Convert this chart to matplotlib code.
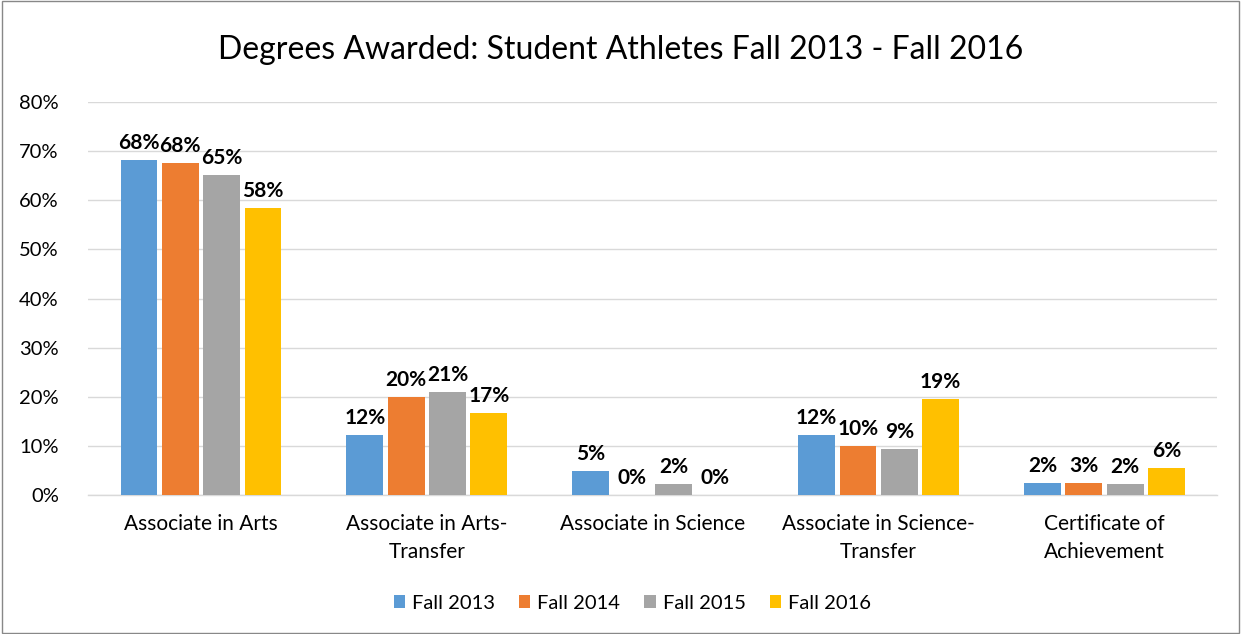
import numpy as np
import matplotlib.pyplot as plt
from matplotlib.patches import Rectangle

plt.rcParams['font.family'] = ['Lato', 'DejaVu Sans']

# Data
categories = ["Associate in Arts", "Associate in Arts-\nTransfer", "Associate in Science",
              "Associate in Science-\nTransfer", "Certificate of\nAchievement"]
series = ["Fall 2013", "Fall 2014", "Fall 2015", "Fall 2016"]
fall_2013 = [68.3, 12.2, 4.9, 12.2, 2.4]
fall_2014 = [67.6, 20.0, 0.0, 10.0, 2.5]
fall_2015 = [65.2, 21.0, 2.2, 9.4, 2.2]
fall_2016 = [58.4, 16.7, 0.0, 19.6, 5.6]
labels_2013 = ["68%", "12%", "5%", "12%", "2%"]
labels_2014 = ["68%", "20%", "0%", "10%", "3%"]
labels_2015 = ["65%", "21%", "2%", "9%", "2%"]
labels_2016 = ["58%", "17%", "0%", "19%", "6%"]
colors = ["#5b9bd5", "#ed7d31", "#a5a5a5", "#ffc000"]

values = [fall_2013, fall_2014, fall_2015, fall_2016]
labels = [labels_2013, labels_2014, labels_2015, labels_2016]

fig = plt.figure(figsize=(12.41, 6.34), dpi=100)
ax = fig.add_axes([0.0709, 0.2192, 0.9101, 0.6198])

x = np.arange(len(categories))
step = 0.183
width = 0.163
for i, (vals, labs, c, name) in enumerate(zip(values, labels, colors, series)):
    pos = x + (i - 1.5) * step
    ax.bar(pos, vals, width, color=c, label=name, zorder=3)
    for p, v, t in zip(pos, vals, labs):
        ax.text(p, v + 1.4, t, ha='center', va='bottom', fontsize=15,
                fontweight='bold', color='black')

ax.set_xlim(-0.5, 4.5)
ax.set_ylim(0, 80)
ax.set_yticks(np.arange(0, 81, 10))
ax.set_yticklabels([f"{v}%" for v in range(0, 81, 10)], fontsize=14.5)
ax.set_xticks(x)
ax.set_xticklabels(categories, fontsize=15, linespacing=1.45)
ax.tick_params(axis='x', length=0, pad=14)
ax.tick_params(axis='y', length=0, pad=21)
ax.grid(axis='y', color='#d9d9d9', linewidth=1, zorder=0)
for s in ['top', 'right', 'left']:
    ax.spines[s].set_visible(False)
ax.spines['bottom'].set_color('#d9d9d9')
ax.spines['bottom'].set_linewidth(1)

fig.suptitle("Degrees Awarded: Student Athletes Fall 2013 - Fall 2016",
             fontsize=23, x=0.5, y=0.945)

ax.legend(loc='center', bbox_to_anchor=(0.482, -0.275), ncol=4, frameon=False,
          fontsize=14.5, handlelength=0.55, handleheight=0.55, handletextpad=0.35,
          columnspacing=1.2)

fig.patches.append(Rectangle((0.002, 0.002), 0.996, 0.996, transform=fig.transFigure,
                             fill=False, edgecolor='#888888', linewidth=1))

plt.savefig("out.png", dpi=100)
